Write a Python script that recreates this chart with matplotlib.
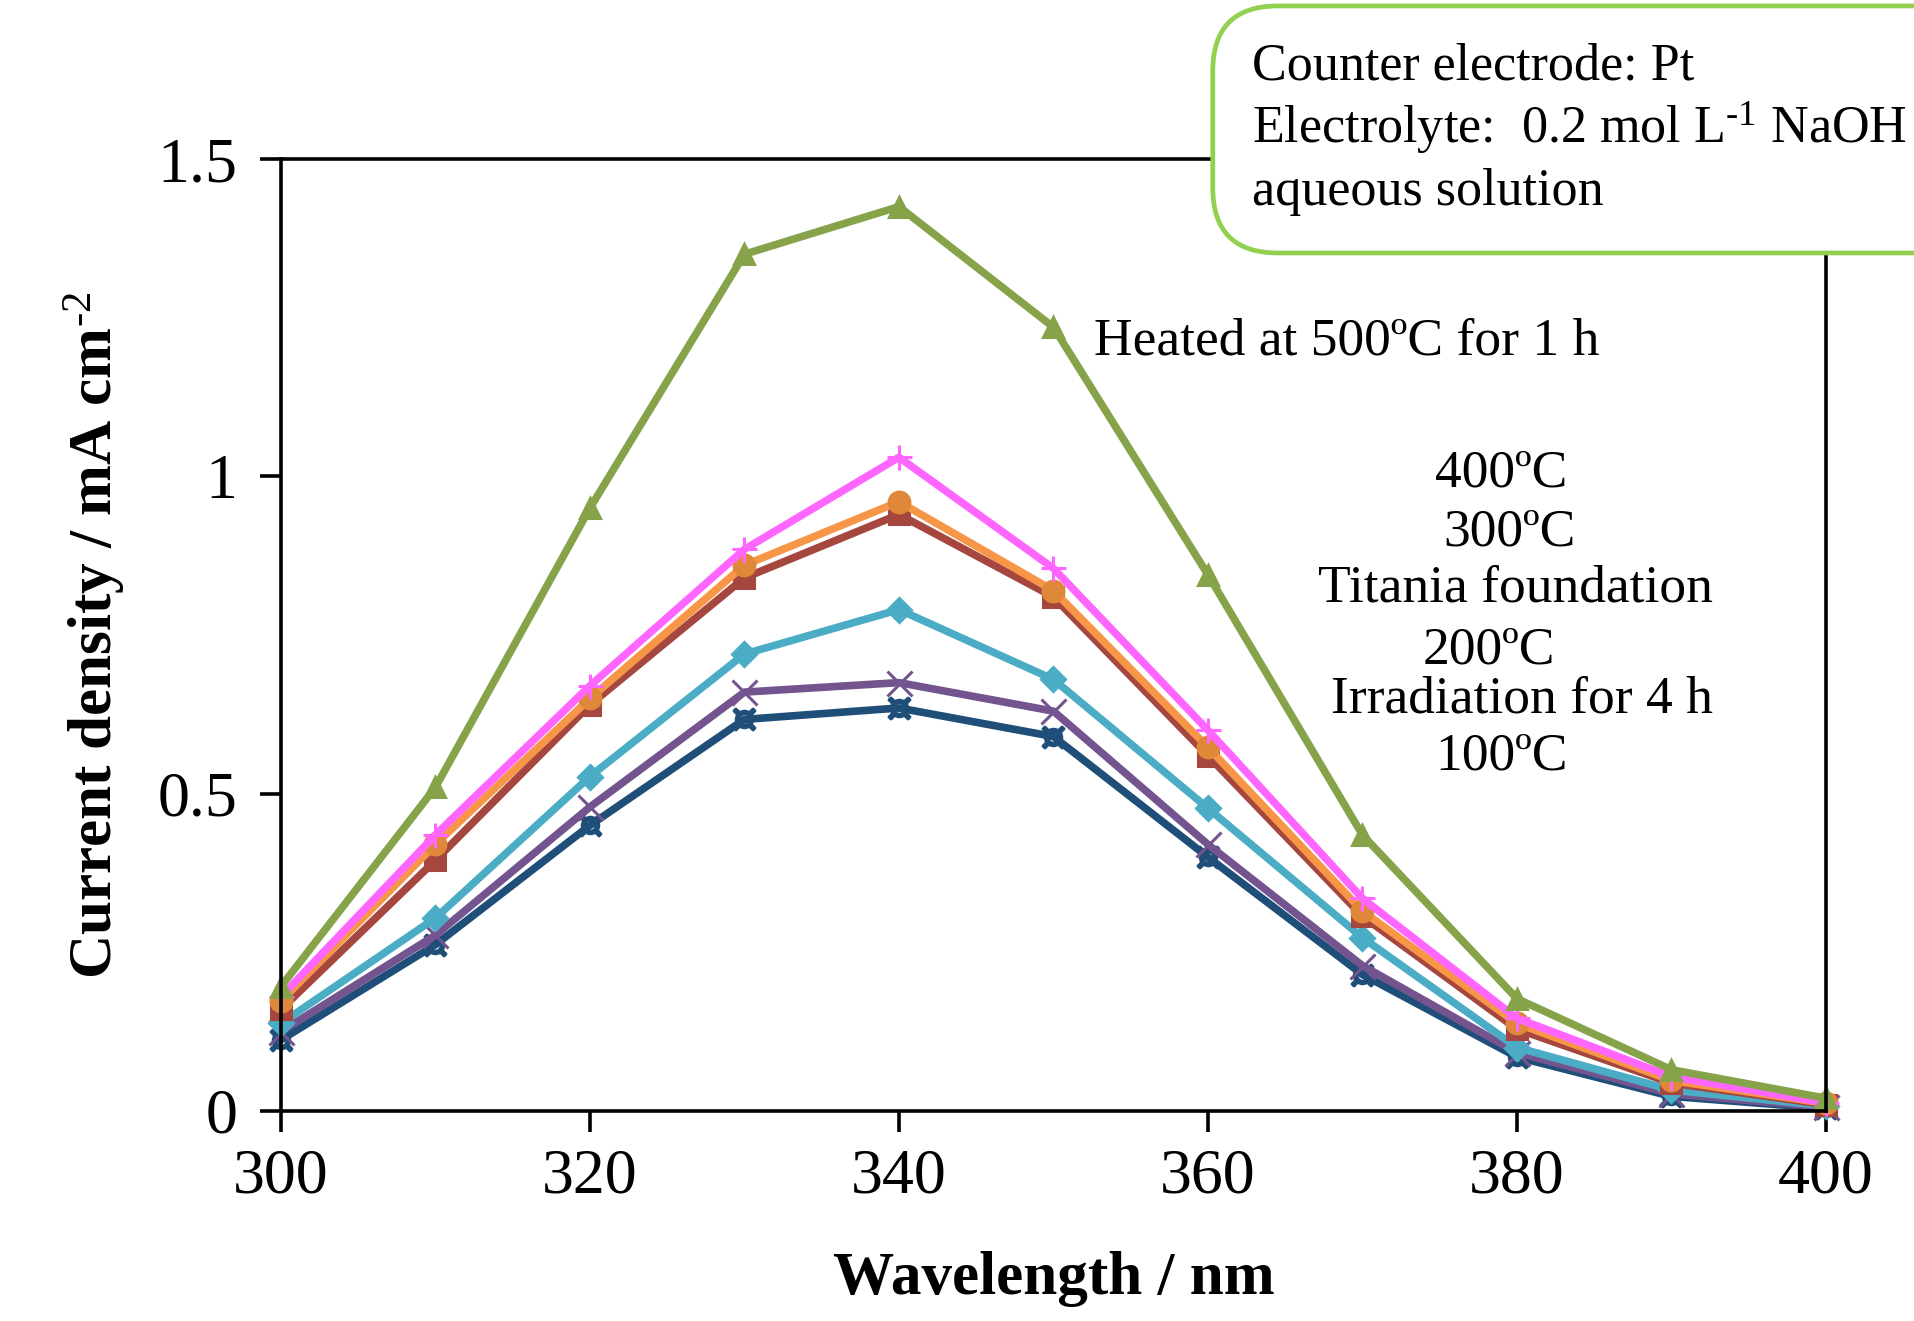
import numpy as np
import matplotlib
matplotlib.use('Agg')
import matplotlib.pyplot as plt
from matplotlib.patches import FancyBboxPatch

plt.rcParams['font.family'] = ['Liberation Serif', 'DejaVu Serif']
plt.rcParams['mathtext.fontset'] = 'custom'
plt.rcParams['mathtext.rm'] = 'Liberation Serif'
plt.rcParams['mathtext.it'] = 'Liberation Serif:italic'
plt.rcParams['mathtext.bf'] = 'Liberation Serif:bold'

wavelength = [300, 310, 320, 330, 340, 350, 360, 370, 380, 390, 400]

heated_500 = [0.196, 0.51, 0.95, 1.35, 1.425, 1.235, 0.845, 0.435, 0.177, 0.065, 0.02]
heated_400 = [0.18, 0.435, 0.67, 0.885, 1.03, 0.855, 0.60, 0.335, 0.146, 0.054, 0.013]
heated_300 = [0.173, 0.42, 0.65, 0.86, 0.96, 0.82, 0.573, 0.315, 0.138, 0.048, 0.012]
titania = [0.16, 0.395, 0.64, 0.84, 0.94, 0.81, 0.56, 0.307, 0.129, 0.044, 0.01]
heated_200 = [0.138, 0.304, 0.527, 0.72, 0.79, 0.68, 0.477, 0.273, 0.10, 0.033, 0.008]
irradiation = [0.125, 0.277, 0.479, 0.66, 0.675, 0.63, 0.42, 0.229, 0.092, 0.027, 0.006]
heated_100 = [0.112, 0.262, 0.45, 0.617, 0.635, 0.59, 0.40, 0.215, 0.085, 0.023, 0.004]

series = [
    (heated_500, '#86A34A', '^', '#86A34A'),
    (heated_400, '#FF66FF', '+', '#FF66FF'),
    (heated_300, '#F79646', 'o', '#E0883A'),
    (titania, '#A5463F', 's', '#A5463F'),
    (heated_200, '#4BACC6', 'D', '#4BACC6'),
    (irradiation, '#74548F', 'x', '#74548F'),
    (heated_100, '#1F4E79', '$\u2731$', '#1F4E79'),
]

fig = plt.figure(figsize=(19.15, 13.21), dpi=100)
ax = fig.add_axes([0.1467, 0.159, 0.8068, 0.7206])

# draw from bottom to top so upper curves sit over lower ones
for vals, color, marker, mcolor in reversed(series):
    ms = 15
    if marker == 'D':
        ms = 12
    if marker in ('+', 'x'):
        ms = 18
    ax.plot(wavelength, vals, color=color, lw=5.5, marker=marker, ms=ms,
            markerfacecolor=mcolor, markeredgecolor=mcolor, mew=2.2, clip_on=False)

ax.set_xlim(300, 400)
ax.set_ylim(0, 1.5)
ax.set_xticks([300, 320, 340, 360, 380, 400])
ax.set_yticks([0, 0.5, 1, 1.5])
ax.set_yticklabels(['0', '0.5', '1', '1.5'])
ax.tick_params(axis='both', direction='out', length=15, width=2.6, labelsize=46)
ax.tick_params(axis='x', pad=12)
ax.tick_params(axis='y', pad=16)
for sp in ax.spines.values():
    sp.set_linewidth(2.6)

ax.set_xlabel('Wavelength / nm', fontsize=44, fontweight='bold', labelpad=32)
ax.set_ylabel(r'Current density / mA cm$^{\mathbf{\text{-2}}}$', fontsize=44,
              fontweight='bold', labelpad=22)

ax.text(352.6, 1.213, 'Heated at 500\u00baC for 1 h', fontsize=38.5, va='center', ha='left')
labels = ['400\u00baC', '300\u00baC', 'Titania foundation', '200\u00baC', 'Irradiation for 4 h', '100\u00baC']
label_x = [379.0, 379.5, 379.9, 378.2, 380.3, 379.0]
label_y = [1.004, 0.912, 0.824, 0.726, 0.649, 0.558]
for t, lx, ly in zip(labels, label_x, label_y):
    ax.text(lx, ly, t, fontsize=38.5, va='center', ha='center')

box = FancyBboxPatch((0.6333, 0.8085), 0.45, 0.187, transform=fig.transFigure,
                     boxstyle='round,pad=0.0,rounding_size=0.034',
                     facecolor='white', edgecolor='#92D050', lw=3.4, zorder=5,
                     mutation_aspect=1915 / 1321)
fig.patches.append(box)
box_lines = ['Counter electrode: Pt',
             r'Electrolyte:  0.2 mol L$^{\text{-1}}$ NaOH',
             'aqueous solution']
box_y = [0.950, 0.903, 0.855]
for t, by in zip(box_lines, box_y):
    fig.text(0.6537, by, t, fontsize=37.5, va='center', ha='left', zorder=6)

fig.savefig('out.png', dpi=100, facecolor='white')
